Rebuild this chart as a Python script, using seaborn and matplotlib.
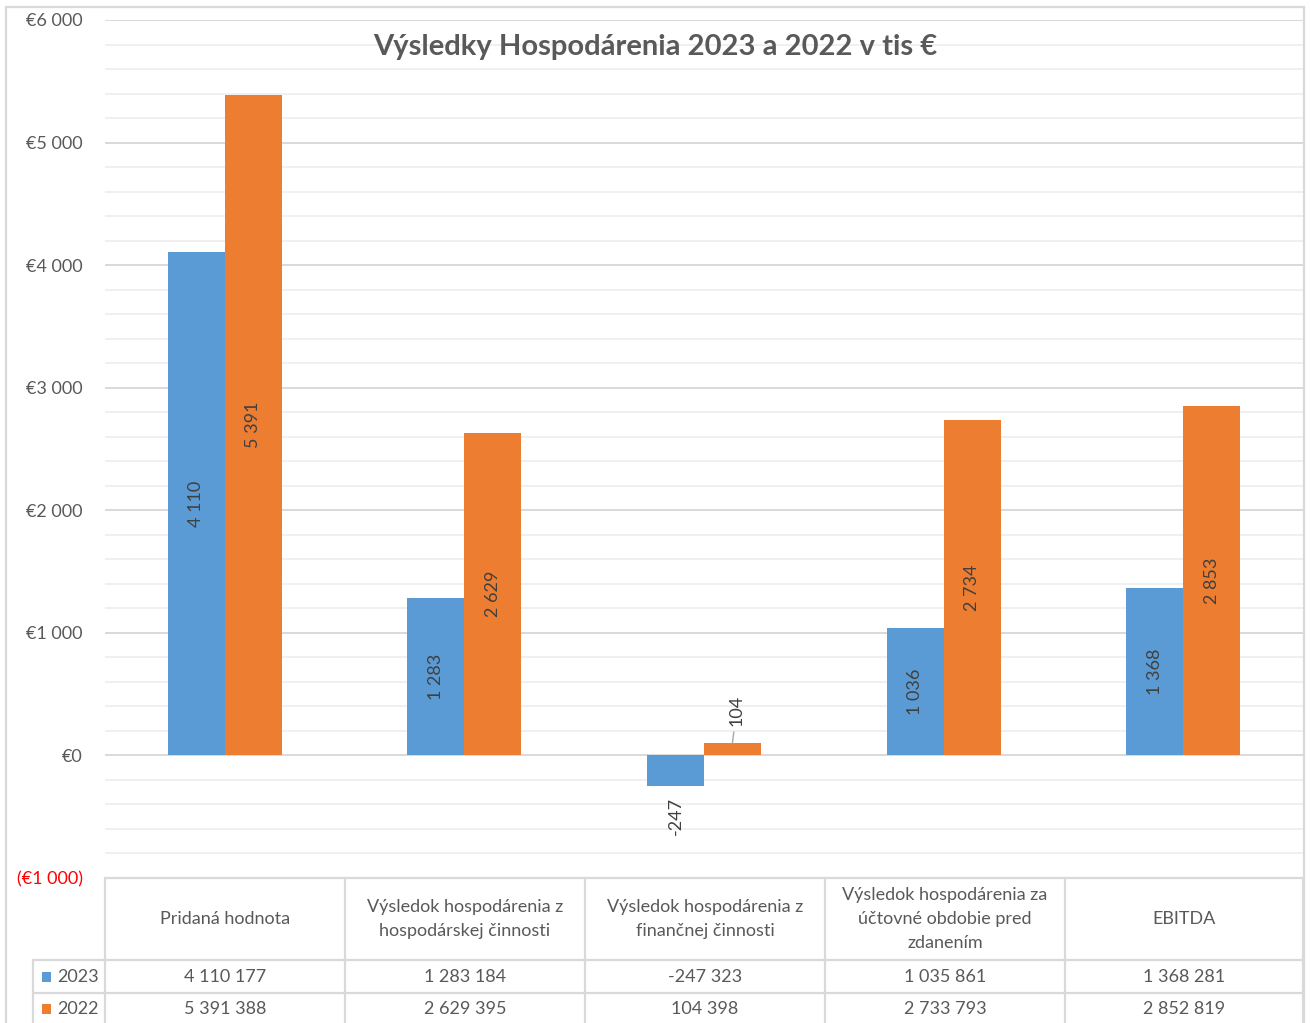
import pandas as pd
import matplotlib.pyplot as plt
import seaborn as sns
from matplotlib.ticker import MultipleLocator, FuncFormatter
from matplotlib.lines import Line2D
from matplotlib.patches import Rectangle

sns.set_style("white")
plt.rcParams['font.family'] = ['Lato', 'DejaVu Sans']

# data (v EUR)
kategorie = [
    "Pridaná hodnota",
    "Výsledok hospodárenia z\nhospodárskej činnosti",
    "Výsledok hospodárenia z\nfinančnej činnosti",
    "Výsledok hospodárenia za\núčtovné obdobie pred\nzdanením",
    "EBITDA",
]
roky = ["2023", "2022"]
hodnoty_2023 = [4110177, 1283184, -247323, 1035861, 1368281]
hodnoty_2022 = [5391388, 2629395, 104398, 2733793, 2852819]
farby = {"2023": "#5B9BD5", "2022": "#ED7D31"}

df = pd.DataFrame({
    "kategoria": kategorie * 2,
    "rok": ["2023"] * 5 + ["2022"] * 5,
    "hodnota": hodnoty_2023 + hodnoty_2022,
})
df["tis"] = df["hodnota"] / 1000

W, H = 1310, 1023
fig = plt.figure(figsize=(W / 100, H / 100), dpi=100)


def fx(px):
    return px / W


def fy(py):
    return 1 - py / H


ax_l, ax_r, ax_t, ax_b = 105, 1303, 20, 878
ax = fig.add_axes([fx(ax_l), fy(ax_b), fx(ax_r - ax_l), (ax_b - ax_t) / H])

sns.barplot(data=df, x="kategoria", y="tis", hue="rok", order=kategorie,
            hue_order=roky, palette=farby, saturation=1, width=0.475,
            errorbar=None, linewidth=0, ax=ax, legend=False, zorder=3)

ax.set_xlim(-0.5, 4.5)
ax.set_ylim(-1000, 6000)
ax.yaxis.set_major_locator(MultipleLocator(1000))
ax.yaxis.set_minor_locator(MultipleLocator(200))
ax.grid(which="major", axis="y", color="#d9d9d9", lw=1.4)
ax.grid(which="minor", axis="y", color="#f0f0f0", lw=1.4)
ax.set_axisbelow(True)
for s in ax.spines.values():
    s.set_visible(False)
ax.set_xlabel("")
ax.set_ylabel("")
ax.set_xticks([])
ax.tick_params(axis="y", which="both", length=0, pad=16, labelsize=13,
               labelcolor="#595959")


def eur(v, pos=None):
    s = f"€{abs(int(round(v))):,}".replace(",", " ")
    return f"({s})" if v < 0 else s


ax.yaxis.set_major_formatter(FuncFormatter(eur))
fig.canvas.draw()
for t in ax.get_yticklabels():
    if t.get_text().startswith("("):
        t.set_color("red")

# popisky hodnot
lbl_kw = dict(rotation=90, fontsize=13, color="#404040")
for cont, vals in zip(ax.containers, [hodnoty_2023, hodnoty_2022]):
    labels = []
    for v in vals:
        txt = f"{round(v / 1000):,}".replace(",", " ")
        labels.append(txt if v / 1000 > 500 else "")
    ax.bar_label(cont, labels=labels, label_type="center", **lbl_kw)
    for bar, v in zip(cont.patches, vals):
        if v / 1000 > 500:
            continue
        txt = f"{round(v / 1000):,}".replace(",", " ")
        cx = bar.get_x() + bar.get_width() / 2
        if v < 0:
            ax.annotate(txt, (cx, v / 1000), xytext=(0, -8), textcoords="offset points",
                        ha="center", va="top", **lbl_kw)
        else:
            ax.annotate(txt, (cx, v / 1000), xytext=(3, 12), textcoords="offset points",
                        ha="center", va="bottom", **lbl_kw,
                        arrowprops=dict(arrowstyle="-", color="#a6a6a6", lw=1,
                                        shrinkA=2, shrinkB=0))

# nadpis
fig.text(fx(655), fy(47), "Výsledky Hospodárenia 2023 a 2022 v tis €", ha="center",
         va="center", fontsize=21, fontweight="bold", color="#595959")

# tabulka pod grafom
grid_c = "#d9d9d9"
col_x = [105, 345, 585, 825, 1065, 1303]
row_y = [878, 960, 993, 1030]
leg_l = 33


def hline(x0, x1, y):
    fig.add_artist(Line2D([fx(x0), fx(x1)], [fy(y), fy(y)], color=grid_c, lw=1.6))


def vline(x, y0, y1):
    fig.add_artist(Line2D([fx(x), fx(x)], [fy(y0), fy(y1)], color=grid_c, lw=1.6))


hline(col_x[0], col_x[-1], row_y[0])
hline(leg_l, col_x[-1], row_y[1])
hline(leg_l, col_x[-1], row_y[2])
for x in col_x:
    vline(x, row_y[0], row_y[-1])
vline(leg_l, row_y[1], row_y[-1])

txt_c = "#595959"
for i, k in enumerate(kategorie):
    cx = (col_x[i] + col_x[i + 1]) / 2
    fig.text(fx(cx), fy(919), k, ha="center", va="center", fontsize=13,
             color=txt_c, linespacing=1.65)
for r, (rok, vals) in enumerate(zip(roky, [hodnoty_2023, hodnoty_2022])):
    cy = (row_y[r + 1] + [row_y[2], 1025][r]) / 2
    fig.add_artist(Rectangle((fx(42), fy(cy + 5)), fx(9), 10 / H, color=farby[rok], lw=0))
    fig.text(fx(57), fy(cy), rok, ha="left", va="center", fontsize=13, color=txt_c)
    for i, v in enumerate(vals):
        cx = (col_x[i] + col_x[i + 1]) / 2
        fig.text(fx(cx), fy(cy), f"{v:,}".replace(",", " "), ha="center",
                 va="center", fontsize=13, color=txt_c)

# ramik okolo grafu
fig.add_artist(Rectangle((fx(6), -0.05), fx(1304 - 6), fy(7) + 0.05, fill=False,
                         edgecolor=grid_c, lw=1.6))

fig.savefig("out.png", dpi=100)
